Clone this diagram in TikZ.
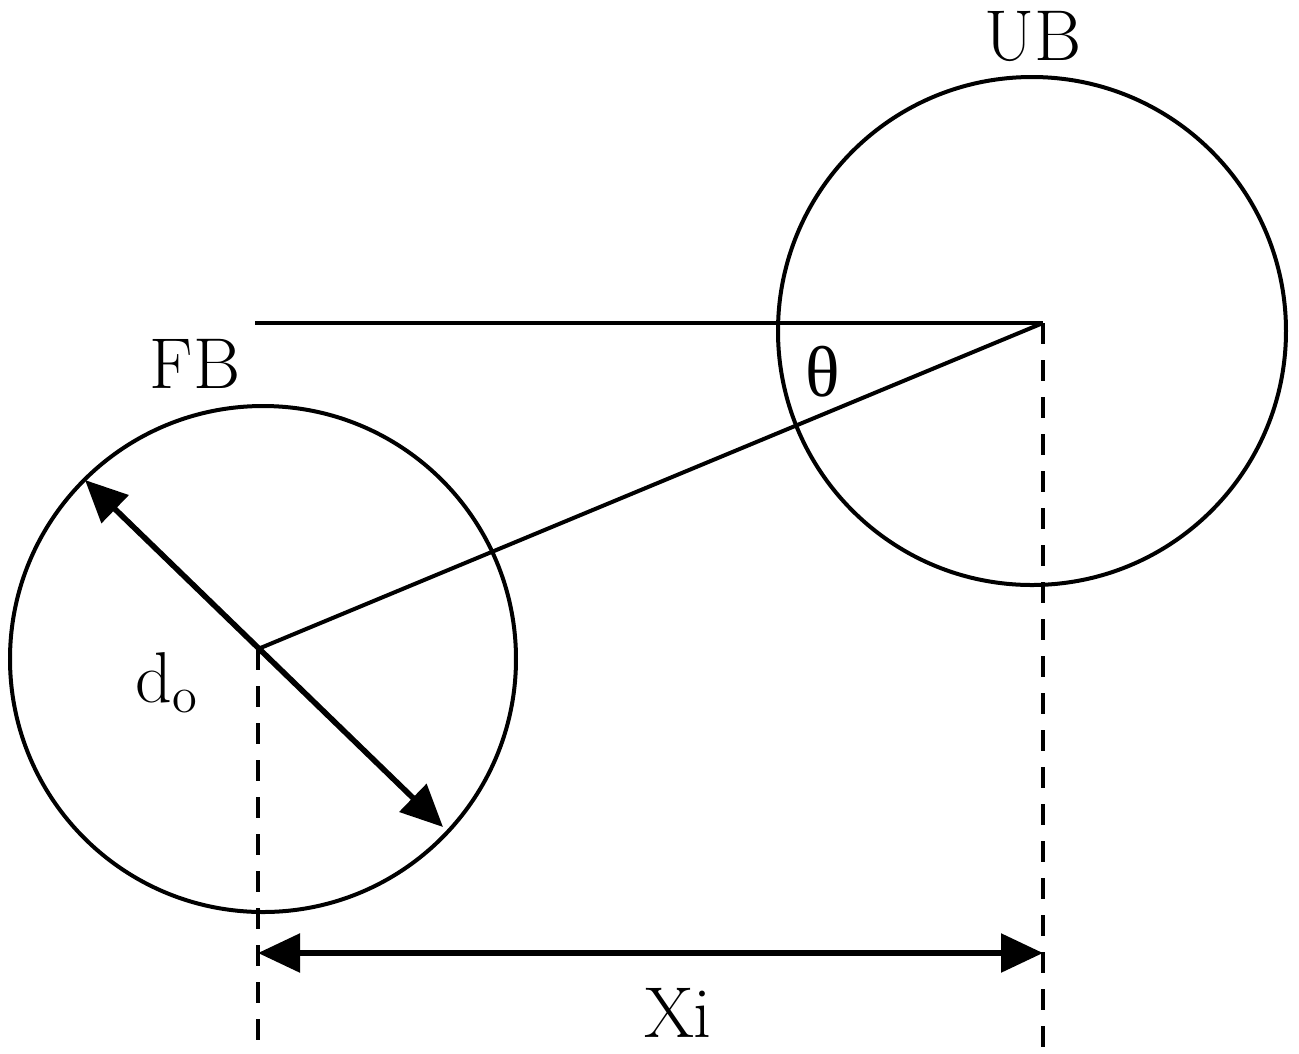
\documentclass[tikz,border=0pt]{standalone}
\usepackage{fontspec}
\usetikzlibrary{arrows.meta}
\newfontfamily\greekfont{Liberation Serif}

\tikzset{every picture/.style={line width=1pt}}
\tikzset{
  dimarrow/.style={line width=1.4pt,{Triangle[length=10.5pt,width=9.5pt]}-{Triangle[length=10.5pt,width=9.5pt]}},
  guide/.style={line width=1.1pt,dash pattern=on 5.25pt off 4pt},
  lbl/.style={font=\fontsize{18}{20}\selectfont,inner sep=0pt}
}

\begin{document}
\begin{tikzpicture}[x=0.25pt,y=0.25pt,yscale=-1,xscale=1]
	\useasboundingbox (0,0) rectangle (1299,1053);

	% Points
	\coordinate (FB) at (258,649);
	\coordinate (UB) at (1043,323);
	\coordinate (H) at (255,323);
	\coordinate (dA) at (85,480);
	\coordinate (dB) at (443,827);
	\coordinate (XL) at (258,953);
	\coordinate (XR) at (1043,953);
	\coordinate (FBend) at (258,1047);
	\coordinate (UBend) at (1043,1047);

	%Shape: Circle [FB]
	\draw (263,659) circle (63.25pt);
	%Shape: Circle [UB]
	\draw (1032,331) circle (63.5pt);

	%Straight Lines
	\draw [line width=1.2pt] (H) -- (UB);
	\draw (FB) -- (UB);
	\draw [guide] (FB) -- (FBend);
	\draw [guide] (UB) -- (UBend);

	%Arrows
	\draw [dimarrow] (dA) -- (dB);
	\draw [dimarrow] (XL) -- (XR);

	% Text Node
	\node [lbl] (tUB) at (1033,36) {UB};
	% Text Node
	\node [lbl] (tFB) at (195,364) {FB};
	% Text Node
	\node [lbl] (tTheta) at (823,372) {\greekfont θ};
	% Text Node
	\node [lbl] (tDo) at (167,683) {d$_{\mathrm{o}}$};
	% Text Node
	\node [lbl] (tXi) at (678,1013) {Xi};

\end{tikzpicture}
\end{document}
